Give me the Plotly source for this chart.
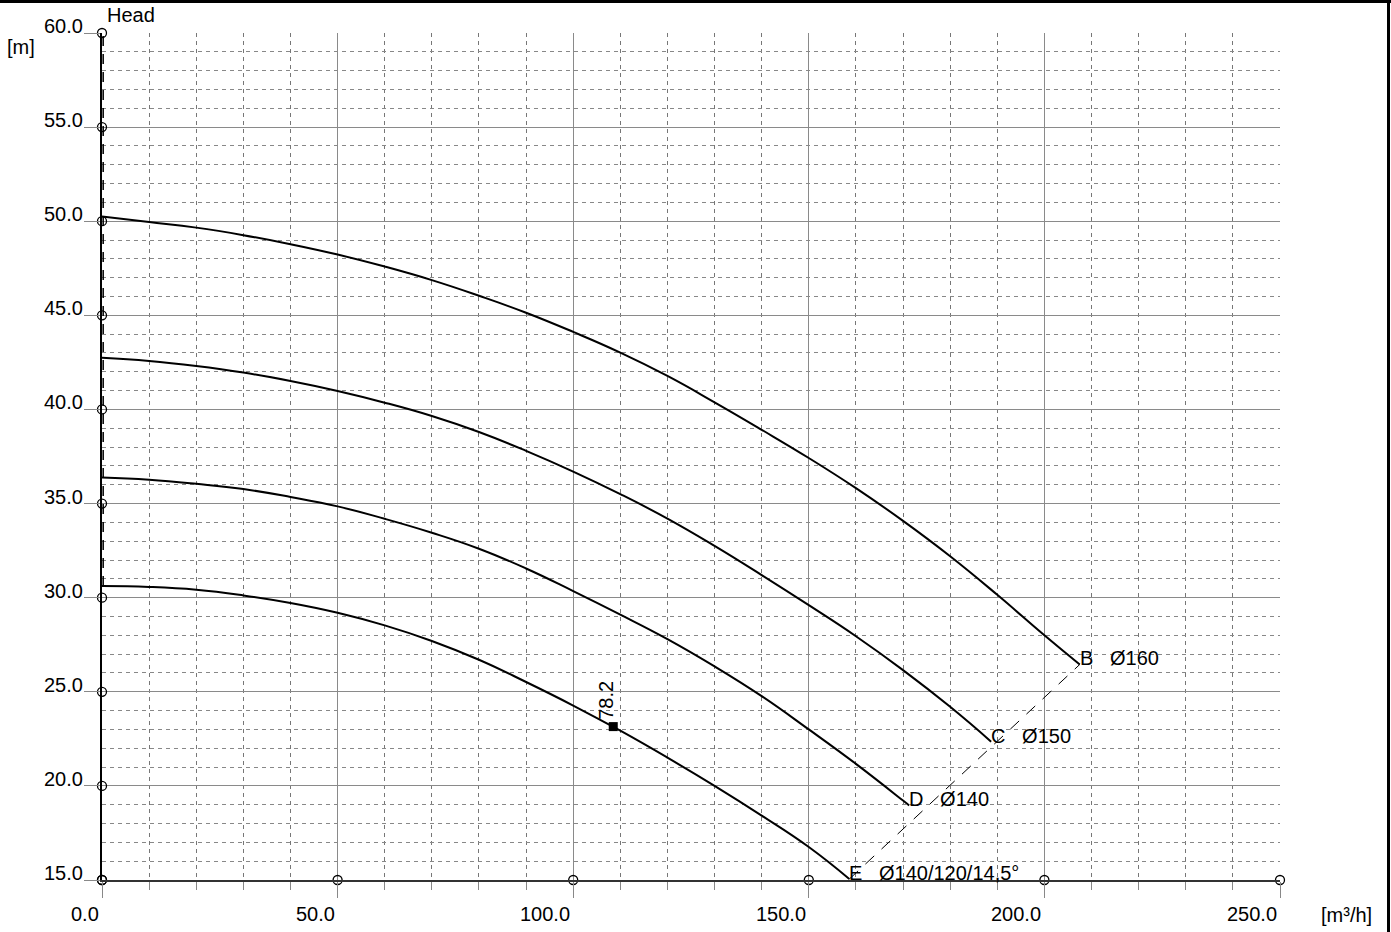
import plotly.graph_objects as go

# ---------------- data ----------------
curve_B_x = [0, 10, 20, 30, 40, 50, 60, 70, 80, 90, 100, 110, 120, 130, 140, 150, 160, 170, 180, 190, 200, 207.5]
curve_B_y = [50.25, 49.96, 49.66, 49.26, 48.78, 48.23, 47.59, 46.87, 46.04, 45.14, 44.12, 43.02, 41.78, 40.38,
             38.92, 37.42, 35.82, 34.08, 32.2, 30.15, 28.0, 26.45]

curve_C_x = [0, 10, 20, 30, 40, 50, 60, 70, 80, 90, 100, 110, 120, 130, 140, 150, 160, 170, 180, 188.7]
curve_C_y = [42.75, 42.58, 42.31, 41.96, 41.51, 40.98, 40.36, 39.65, 38.8, 37.8, 36.7, 35.5, 34.2, 32.75,
             31.2, 29.6, 27.95, 26.15, 24.2, 22.35]

curve_D_x = [0, 10, 20, 30, 40, 50, 60, 70, 80, 90, 100, 110, 120, 130, 140, 150, 160, 170, 171.3]
curve_D_y = [36.39, 36.27, 36.05, 35.77, 35.35, 34.85, 34.19, 33.45, 32.6, 31.55, 30.35, 29.1, 27.8, 26.35,
             24.77, 23.0, 21.17, 19.22, 18.96]

curve_E_x = [0, 10, 20, 30, 40, 50, 60, 70, 80, 90, 100, 110, 120, 130, 140, 150, 158.6]
curve_E_y = [30.62, 30.57, 30.42, 30.12, 29.72, 29.2, 28.53, 27.7, 26.7, 25.52, 24.27, 22.93, 21.5, 20.0,
             18.42, 16.75, 15.05]

curve_names = ["B\u00a0\u00a0\u00a0Ø160", "C\u00a0\u00a0\u00a0Ø150", "D\u00a0\u00a0\u00a0Ø140",
               "E\u00a0\u00a0\u00a0Ø140/120/14,5°"]

# dashed line joining curve ends (E end -> B end)
end_line_x = [158.6, 207.5]
end_line_y = [15.05, 26.45]

# zero-flow dashed line
zero_line_x = [0.25, 0.25]
zero_line_y = [30.62, 60.0]

# duty point
point_x = [108.5]
point_y = [23.15]
point_label = "78.2"

x_ticks = [0, 50, 100, 150, 200, 250]
x_tick_labels = ["0.0", "50.0", "100.0", "150.0", "200.0", "250.0"]
y_ticks = [15, 20, 25, 30, 35, 40, 45, 50, 55, 60]
y_tick_labels = ["15.0", "20.0", "25.0", "30.0", "35.0", "40.0", "45.0", "50.0", "55.0", "60.0"]

y_title = "Head"
y_unit = "[m]"
x_unit = "[m³/h]"

# ---------------- figure ----------------
FONT = "Liberation Sans, Arial, sans-serif"
FS = 20

fig = go.Figure()

fig.add_trace(go.Scatter(x=zero_line_x, y=zero_line_y, mode="lines",
                         line=dict(color="black", width=1.5, dash="10px,8px"),
                         hoverinfo="skip", showlegend=False))

for cx, cy in [(curve_B_x, curve_B_y), (curve_C_x, curve_C_y), (curve_D_x, curve_D_y), (curve_E_x, curve_E_y)]:
    fig.add_trace(go.Scatter(x=cx, y=cy, mode="lines",
                             line=dict(color="black", width=2, shape="spline", smoothing=1.3),
                             hoverinfo="skip", showlegend=False))

fig.add_trace(go.Scatter(x=end_line_x, y=end_line_y, mode="lines",
                         line=dict(color="black", width=1, dash="12px,10px"),
                         hoverinfo="skip", showlegend=False))

# circles on axes
fig.add_trace(go.Scatter(x=[x_ticks[0]] * len(y_ticks), y=y_ticks, mode="markers",
                         marker=dict(symbol="circle-open", size=9, color="black", line=dict(width=1.3)),
                         cliponaxis=False, hoverinfo="skip", showlegend=False))
fig.add_trace(go.Scatter(x=x_ticks, y=[y_ticks[0]] * len(x_ticks), mode="markers",
                         marker=dict(symbol="circle-open", size=9, color="black", line=dict(width=1.3)),
                         cliponaxis=False, hoverinfo="skip", showlegend=False))

fig.add_trace(go.Scatter(x=point_x, y=point_y, mode="markers",
                         marker=dict(symbol="square", size=9, color="black"),
                         hoverinfo="skip", showlegend=False))

annotations = []
# y tick labels
for v, t in zip(y_ticks, y_tick_labels):
    annotations.append(dict(x=0, y=v, xref="x", yref="y", text=t, showarrow=False,
                            xanchor="right", yanchor="bottom", xshift=-17, yshift=-6,
                            font=dict(family=FONT, size=FS, color="black")))
# x tick labels
for v, t in zip(x_ticks, x_tick_labels):
    annotations.append(dict(x=v, y=0, xref="x", yref="paper", text=t, showarrow=False,
                            xanchor="right", yanchor="top", xshift=-1, yshift=-21,
                            font=dict(family=FONT, size=FS, color="black")))
# curve labels
for (ex, ey), name in zip([(curve_B_x[-1], curve_B_y[-1]), (curve_C_x[-1], curve_C_y[-1]),
                           (curve_D_x[-1], curve_D_y[-1]), (curve_E_x[-1], curve_E_y[-1])], curve_names):
    annotations.append(dict(x=ex, y=ey, xref="x", yref="y", text=name, showarrow=False,
                            xanchor="left", yanchor="bottom", xshift=-2, yshift=-7,
                            font=dict(family=FONT, size=FS, color="black")))
# point label
annotations.append(dict(x=point_x[0], y=point_y[0], xref="x", yref="y", text=point_label, showarrow=False,
                        textangle=-90, xanchor="center", yanchor="middle", xshift=-8, yshift=26,
                        font=dict(family=FONT, size=FS, color="black")))
# axis titles
annotations.append(dict(x=0, y=1, xref="x", yref="paper", text=y_title, showarrow=False,
                        xanchor="left", yanchor="bottom", xshift=3, yshift=5,
                        font=dict(family=FONT, size=FS, color="black")))
annotations.append(dict(x=0, y=1, xref="paper", yref="paper", text=y_unit, showarrow=False,
                        xanchor="left", yanchor="middle", xshift=-97, yshift=-14,
                        font=dict(family=FONT, size=FS, color="black")))
annotations.append(dict(x=1, y=0, xref="paper", yref="paper", text=x_unit, showarrow=False,
                        xanchor="left", yanchor="middle", xshift=39, yshift=-35,
                        font=dict(family=FONT, size=FS, color="black")))

W, H = 1391, 932
L, R, T, B = 102, 111, 33, 52
pw, ph = W - L - R, H - T - B

shapes = [
    dict(type="line", xref="paper", yref="paper", x0=-L / pw, x1=(W - L) / pw,
         y0=(ph + T - 1.5) / ph, y1=(ph + T - 1.5) / ph, line=dict(color="black", width=3)),
    dict(type="line", xref="paper", yref="paper", x0=(W - L - 2.5) / pw, x1=(W - L - 2.5) / pw,
         y0=-B / ph, y1=(ph + T) / ph, line=dict(color="black", width=3)),
]

fig.update_layout(
    width=W, height=H,
    margin=dict(l=L, r=R, t=T, b=B, pad=0),
    paper_bgcolor="white", plot_bgcolor="white",
    showlegend=False,
    font=dict(family=FONT, size=FS, color="black"),
    annotations=annotations,
    shapes=shapes,
    xaxis=dict(range=[0, 250], tickvals=x_ticks, showticklabels=False,
               ticks="outside", ticklen=16, tickcolor="#888", tickwidth=1,
               showgrid=True, gridcolor="#8a8a8a", gridwidth=1,
               showline=True, linecolor="#333", linewidth=1.5,
               zeroline=False,
               minor=dict(dtick=10, tick0=0, ticks="outside", ticklen=8, tickcolor="#888",
                          showgrid=True, gridcolor="#777", griddash="4px,4px", gridwidth=1)),
    yaxis=dict(range=[15, 60], tickvals=y_ticks, showticklabels=False,
               ticks="outside", ticklen=16, tickcolor="#888", tickwidth=1,
               showgrid=True, gridcolor="#8a8a8a", gridwidth=1,
               showline=True, linecolor="black", linewidth=1.5,
               zeroline=False,
               minor=dict(dtick=1, tick0=15, ticks="", showgrid=True, gridcolor="#888",
                          griddash="4px,4px", gridwidth=1)),
)

fig.write_html("out.html", config={"displayModeBar": False},
               post_script="document.body.style.margin='0';document.body.style.overflow='hidden';")
